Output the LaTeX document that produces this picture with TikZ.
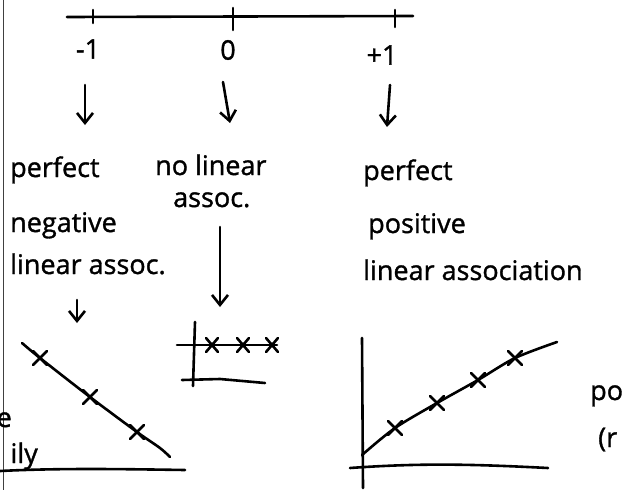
\documentclass[tikz,border=0pt]{standalone}
\usepackage{fontspec}
\setmainfont{Open Sans}
\newfontfamily\handfont{Open Sans}[FakeBold=1.2]
\usetikzlibrary{arrows.meta}

\begin{document}
\begin{tikzpicture}[
        x=1pt, y=-1pt,
        pen/.style={line width=2.6pt, line cap=round, line join=round},
        arr/.style={pen, -{Straight Barb[length=10pt,width=16pt]}},
        hand/.style={font=\handfont\fontsize{27}{30}\selectfont, inner sep=0pt},
        word/.style={hand, anchor=base west}
    ]
        \useasboundingbox (0,0) rectangle (631,490);
        \clip (0,0) rectangle (631,490);
        % page edge
        \draw[line width=1pt, black!75] (3,0) -- (3,490);
        % number line
        \draw[pen] (67,17) -- (413,16);
        \draw[pen] (93,10) -- (93,23);
        \draw[pen] (233,8) -- (233,30);
        \draw[pen] (395,10) -- (395,27);
        \node[hand] (lm1) at (88,49) {-1};
        \node[hand] (lzero) at (228,50) {0};
        \node[hand] (lp1) at (382,55) {+1};
        % arrow ends
        \coordinate (am1a) at (85,85);   \coordinate (am1b) at (85,125);
        \coordinate (azra) at (223,82);  \coordinate (azrb) at (230,123);
        \coordinate (ap1a) at (390,85);  \coordinate (ap1b) at (387,127);
        \coordinate (anla) at (220,227); \coordinate (anlb) at (220,307);
        \coordinate (anga) at (77,300);  \coordinate (angb) at (77,323);
        \draw[arr] (am1a) -- (am1b);
        \draw[arr] (azra) -- (azrb);
        \draw[arr] (ap1a) -- (ap1b);
        \draw[arr] (anla) -- (anlb);
        \draw[arr] (anga) -- (angb);
        % labels
        \node[word] (tneg1) at (10,177) {perfect};
        \node[word] (tneg2) at (10,232) {negative};
        \node[word] (tneg3) at (10,274) {linear assoc.};
        \node[word] (tnone1) at (155,175) {no linear};
        \node[word] (tnone2) at (173,207) {assoc.};
        \node[word] (tpos1) at (363,180) {perfect};
        \node[word] (tpos2) at (368,233) {positive};
        \node[word] (tpos3) at (363,280) {linear association};
        % cut-off words at the edges
        \node[hand, anchor=base east] (frage) at (12,427) {e};
        \node[hand, anchor=base east] (fragily) at (38,463) {ily};
        \node[word] (fragpo) at (590,400) {po};
        \node[word] (fragr) at (598,447) {(r};
        % negative plot
        \draw[pen] (0,471) .. controls (60,468) and (120,469) .. (185,470);
        \draw[pen] plot[smooth] coordinates {(22,343) (40,358) (90,397) (137,432) (160,448) (170,457)};
        \foreach \p in {(40,358),(90,397),(137,432)}
            \draw[pen] \p +(-7,-7) -- +(7,7) \p +(-7,7) -- +(7,-7);
        % no association plot
        \draw[pen] (195,322) -- (193,386);
        \draw[pen] (177,345) -- (277,345);
        \draw[pen] (182,380) -- (220,379) -- (265,383);
        \foreach \p in {(212,345),(243,345),(272,345)}
            \draw[pen] \p +(-6,-7) -- +(6,7) \p +(-6,7) -- +(6,-7);
        % positive plot
        \draw[pen] (362,338) -- (363,488);
        \draw[pen] (350,468) .. controls (420,463) and (470,464) .. (548,468);
        \draw[pen] plot[smooth] coordinates {(362,455) (395,428) (437,403) (478,380) (515,358) (557,342)};
        \foreach \p in {(395,428),(437,403),(478,380),(515,358)}
            \draw[pen] \p +(-7,-7) -- +(7,7) \p +(-7,7) -- +(7,-7);
    \end{tikzpicture}
\end{document}
